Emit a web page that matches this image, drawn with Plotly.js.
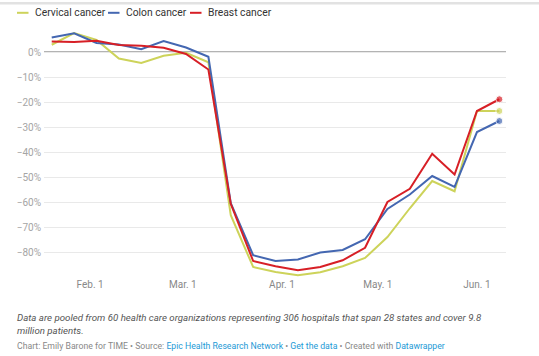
<!DOCTYPE html>
<html>
<head>
<meta charset="utf-8">
<script src="https://cdn.plot.ly/plotly-3.0.1.min.js"></script>
<style>
  html, body { margin: 0; padding: 0; background: #fff; }
  #chart { width: 539px; height: 356px; }
</style>
</head>
<body>
<div id="chart"></div>
<script>
// ---- data ----
const weeks = ['2020-01-20','2020-01-27','2020-02-03','2020-02-10','2020-02-17','2020-02-24','2020-03-02','2020-03-09','2020-03-16','2020-03-23','2020-03-30','2020-04-06','2020-04-13','2020-04-20','2020-04-27','2020-05-04','2020-05-11','2020-05-18','2020-05-25','2020-06-01','2020-06-08'];
const cervical = [2.9, 7.6, 4.8, -2.6, -4.4, -1.5, -0.3, -4.1, -65.3, -86, -88, -89.3, -88.1, -85.7, -82.4, -74, -62.5, -51.6, -55.7, -23.6, -23.6];
const colon    = [5.8, 7.5, 3.6, 3.0, 1.1, 4.4, 1.8, -1.9, -60.5, -81.3, -83.6, -83, -80.2, -79.2, -74.9, -62.8, -57, -49.6, -54, -32, -27.6];
const breast   = [4.2, 4.0, 4.5, 2.8, 2.5, 1.7, -0.8, -7, -60.7, -83.6, -85.7, -87.3, -86, -83.3, -78.3, -60, -54.7, -40.7, -49, -23.6, -18.9];
const seriesNames = ['Cervical cancer', 'Colon cancer', 'Breast cancer'];
const xTickVals = ['2020-02-01','2020-03-01','2020-04-01','2020-05-01','2020-06-01'];
const xTickText = ['Feb. 1','Mar. 1','Apr. 1','May. 1','Jun. 1'];
const yTickVals = [0, -10, -20, -30, -40, -50, -60, -70, -80];
const yTickText = ['0%','\u221210%','\u221220%','\u221230%','\u221240%','\u221250%','\u221260%','\u221270%','\u221280%'];

const colors = ['#cdd35a', '#4467b1', '#d71f26'];
const allSeries = [cervical, colon, breast];

const lastOnly = n => weeks.map((_, i) => i === n - 1 ? 7 : 0);

const traces = allSeries.map((ys, k) => ({
  type: 'scatter',
  mode: 'lines+markers',
  x: weeks,
  y: ys,
  name: seriesNames[k],
  line: { color: colors[k], width: 2 },
  marker: { color: colors[k], size: lastOnly(weeks.length) },
  hoverinfo: 'skip',
  showlegend: false
}));

const shapes = [
  { type: 'line', xref: 'paper', yref: 'y', x0: 0, x1: 1, y0: 0, y1: 0,
    line: { color: '#9a9a9a', width: 1.6 }, layer: 'below' },
  { type: 'line', xref: 'paper', yref: 'paper', x0: -0.1, x1: 1.08, y0: 1.095, y1: 1.095,
    line: { color: '#e2e2e2', width: 2.5 } }
];

// manual legend
const legendX = [17, 108, 190];
const legendTextX = [32.5, 124, 206];
const plotL = 44, plotW = 462, plotT = 26.7, plotH = 250;
const px2x = p => (p - plotL) / plotW;
const py2y = p => (plotT + plotH - p) / plotH;
const annotations = [];
seriesNames.forEach((nm, k) => {
  shapes.push({ type: 'line', xref: 'paper', yref: 'paper',
    x0: px2x(legendX[k]), x1: px2x(legendX[k] + 11.5), y0: py2y(12.5), y1: py2y(12.5),
    line: { color: colors[k], width: 2 } });
  annotations.push({ xref: 'paper', yref: 'paper', x: px2x(legendTextX[k]), y: py2y(12.5),
    xanchor: 'left', yanchor: 'middle', showarrow: false, text: nm,
    font: { family: 'Roboto', size: 10.3, color: '#333' } });
});

annotations.push({
  xref: 'paper', yref: 'paper', x: px2x(15), y: py2y(309.5), xanchor: 'left', yanchor: 'top',
  align: 'left', showarrow: false,
  text: '<i>Data are pooled from 60 health care organizations representing 306 hospitals that span 28 states and cover 9.8<br>million patients.</i>',
  font: { family: 'Roboto', size: 9.7, color: '#555' }
});
const linkC = '#1d9ad6';
annotations.push({
  xref: 'paper', yref: 'paper', x: px2x(15), y: py2y(346), xanchor: 'left', yanchor: 'middle',
  align: 'left', showarrow: false,
  text: 'Chart: Emily Barone for TIME \u2022 Source: <span style="color:' + linkC + '">Epic Health Research Network</span> \u2022 <span style="color:' + linkC + '">Get the data</span> \u2022 Created with <span style="color:' + linkC + '">Datawrapper</span>',
  font: { family: 'Roboto', size: 8.7, color: '#888' }
});

const layout = {
  width: 539, height: 356,
  margin: { l: 44, r: 33, t: 26.7, b: 79.3, pad: 0 },
  paper_bgcolor: '#fff', plot_bgcolor: '#fff',
  showlegend: false,
  font: { family: 'Roboto', color: '#999' },
  xaxis: {
    type: 'date',
    range: ['2020-01-17 14:00', '2020-06-10 02:00'],
    tickvals: xTickVals, ticktext: xTickText,
    showgrid: false, zeroline: false, showline: false, ticks: '',
    tickfont: { family: 'Roboto', size: 10, color: '#888' },
    fixedrange: true
  },
  yaxis: {
    range: [-90, 10],
    tickvals: yTickVals, ticktext: yTickText,
    showgrid: true, gridcolor: '#e9e9e9', gridwidth: 1,
    zeroline: false, showline: false, ticks: '',
    ticklabelstandoff: 2,
    tickfont: { family: 'Roboto', size: 10, color: '#a5a5a5' },
    fixedrange: true
  },
  shapes: shapes,
  annotations: annotations
};

Plotly.newPlot('chart', traces, layout, { displayModeBar: false, staticPlot: true });
</script>
</body>
</html>
